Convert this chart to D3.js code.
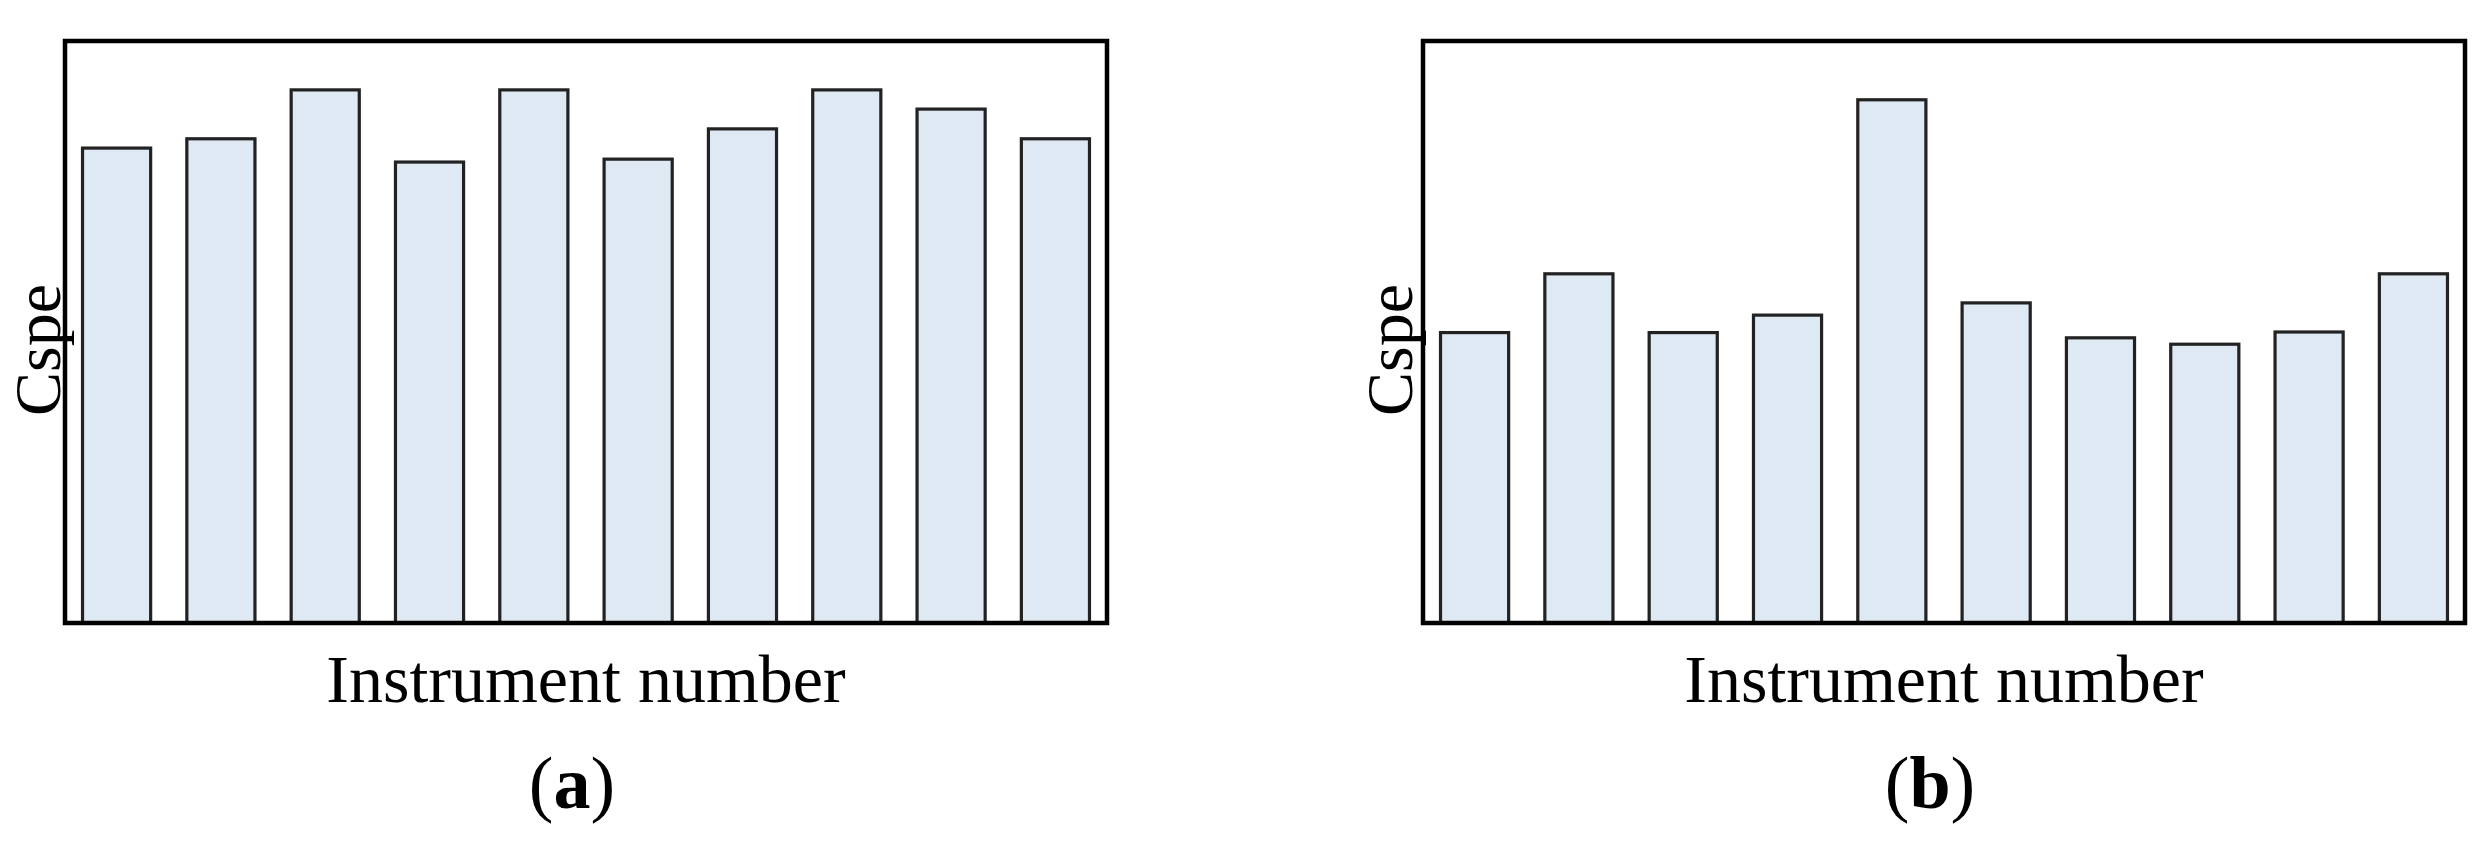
<!DOCTYPE html>
<html>
<head>
<meta charset="utf-8">
<script src="https://cdn.jsdelivr.net/npm/d3@7"></script>
<style>
  html, body { margin: 0; padding: 0; background: #ffffff; }
  svg { display: block; }
</style>
</head>
<body>
<svg id="chart" width="2477" height="862"></svg>
<script>
// ---- data ----
const instruments = ["1", "2", "3", "4", "5", "6", "7", "8", "9", "10"];
const cspeA = [0.816, 0.832, 0.916, 0.792, 0.916, 0.797, 0.849, 0.916, 0.883, 0.832];
const cspeB = [0.499, 0.600, 0.499, 0.529, 0.899, 0.550, 0.490, 0.479, 0.500, 0.600];
const panelLabels = ["a", "b"];
const xTitle = "Instrument number";
const yTitle = "Cspe";

const svg = d3.select("#chart");
const FONT = "'Liberation Serif', 'Times New Roman', serif";

const panels = [
  { left: 65, right: 1107, values: cspeA, label: panelLabels[0], yTitleOffset: 5 },
  { left: 1423, right: 2465, values: cspeB, label: panelLabels[1], yTitleOffset: 11 }
];
const plotTop = 41, plotBottom = 623;

panels.forEach(p => {
  const g = svg.append("g");
  const x = d3.scaleBand()
    .domain(instruments)
    .range([p.left, p.right])
    .paddingInner(0.347)
    .paddingOuter(0.168);
  const y = d3.scaleLinear().domain([0, 1]).range([plotBottom, plotTop]);

  g.selectAll("rect.bar")
    .data(p.values)
    .join("rect")
    .attr("class", "bar")
    .attr("x", (d, i) => x(instruments[i]))
    .attr("y", d => y(d))
    .attr("width", x.bandwidth())
    .attr("height", d => y(0) - y(d))
    .attr("fill", "#dfe9f4")
    .attr("stroke", "#222")
    .attr("stroke-width", 3.2);

  // frame
  g.append("rect")
    .attr("x", p.left)
    .attr("y", plotTop)
    .attr("width", p.right - p.left)
    .attr("height", plotBottom - plotTop)
    .attr("fill", "none")
    .attr("stroke", "#000")
    .attr("stroke-width", 4.5);

  const cx = (p.left + p.right) / 2;
  g.append("text")
    .attr("x", cx)
    .attr("y", 702)
    .attr("text-anchor", "middle")
    .attr("font-family", FONT)
    .attr("font-size", 68)
    .attr("fill", "#000")
    .text(xTitle);

  g.append("text")
    .attr("transform", `translate(${p.left - p.yTitleOffset},350) rotate(-90)`)
    .attr("text-anchor", "middle")
    .attr("font-family", FONT)
    .attr("font-size", 66)
    .attr("fill", "#000")
    .text(yTitle);

  const lab = g.append("text")
    .attr("x", cx - 14)
    .attr("y", 808)
    .attr("text-anchor", "middle")
    .attr("font-family", FONT)
    .attr("font-size", 74)
    .attr("fill", "#000");
  lab.append("tspan").text("(");
  lab.append("tspan").attr("font-weight", "bold").text(p.label);
  lab.append("tspan").text(")");
});
</script>
</body>
</html>
